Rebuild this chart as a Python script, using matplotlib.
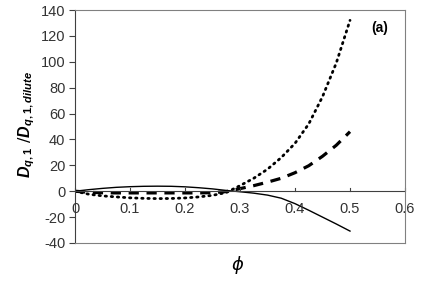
import numpy as np
import matplotlib
matplotlib.use("Agg")
import matplotlib.pyplot as plt

plt.rcParams['mathtext.fontset'] = 'custom'
plt.rcParams['mathtext.it'] = 'Liberation Sans:italic:bold'
plt.rcParams['mathtext.rm'] = 'Liberation Sans:bold'
plt.rcParams['mathtext.bf'] = 'Liberation Sans:bold'

phi = [0.0, 0.025, 0.05, 0.075, 0.1, 0.125, 0.15, 0.175, 0.2, 0.225, 0.25,
       0.275, 0.3, 0.325, 0.35, 0.375, 0.4, 0.425, 0.45, 0.475, 0.5]
solid = [0.0, 1.2, 2.2, 3.0, 3.5, 3.8, 3.9, 3.8, 3.4, 2.7, 1.8,
         0.6, -0.4, -1.5, -3.0, -5.4, -9.6, -14.7, -20.0, -25.3, -30.8]
dashed = [0.0, -0.8, -1.2, -1.3, -1.3, -1.3, -1.3, -1.3, -1.3, -1.3, -1.1,
          -0.3, 2.0, 4.3, 7.0, 10.0, 14.3, 19.7, 27.0, 35.5, 46.0]
dotted = [0.0, -2.3, -3.6, -4.4, -5.1, -5.5, -5.7, -5.6, -5.2, -4.4, -3.2,
          -1.0, 4.3, 10.0, 17.0, 26.0, 37.0, 52.0, 73.0, 99.0, 132.0]

xticks = [0, 0.1, 0.2, 0.3, 0.4, 0.5, 0.6]
yticks = [-40, -20, 0, 20, 40, 60, 80, 100, 120, 140]

fig = plt.figure(figsize=(4.24, 2.91), dpi=100)
ax = fig.add_axes([75/424, 1-243/291, 330/424, 233/291])

ax.plot(phi, solid, color='black', lw=1.0, ls='-')
ax.plot(phi, dashed, color='black', lw=2.3, ls=(0, (3.2, 2.4)))
ax.plot(phi, dotted, color='black', lw=2.0, ls=(0, (0.5, 1.7)), dash_capstyle='round')

ax.set_xlim(0, 0.6)
ax.set_ylim(-40, 140)
ax.set_yticks(yticks)
ax.set_yticklabels([str(v) for v in yticks], fontsize=10.5, color='#333333',
                   family='Liberation Sans')

for s in ax.spines.values():
    s.set_color('#808080')
    s.set_linewidth(0.8)
ax.spines['left'].set_color('#404040')
ax.tick_params(axis='y', direction='out', length=4, color='#404040', pad=3)

# x axis crossing at y=0
ax.axhline(0, color='#404040', lw=0.8)
ax.set_xticks([])
for xv in xticks:
    ax.plot([xv, xv], [0, 2.5], color='#404040', lw=0.8, clip_on=False)
    lbl = '0' if xv == 0 else f'{xv:g}'
    ax.text(xv, -8, lbl, ha='center', va='top', fontsize=10.5, color='#333333',
            family='Liberation Sans')

ax.text(0.924, 0.923, '(a)', transform=ax.transAxes, fontsize=10, fontweight='bold',
        ha='center', va='center', family='Liberation Sans')

fig.text(27/424, 1-125/291, r'$D_{q,1}$ /$D_{q,1,dilute}$',
         rotation=90, ha='center', va='center', fontsize=11.5)
fig.text(237/424, 1-265/291, '\u03d5', ha='center', va='center', fontsize=13,
         style='italic', family='DejaVu Sans')

fig.savefig('out.png', dpi=100)
